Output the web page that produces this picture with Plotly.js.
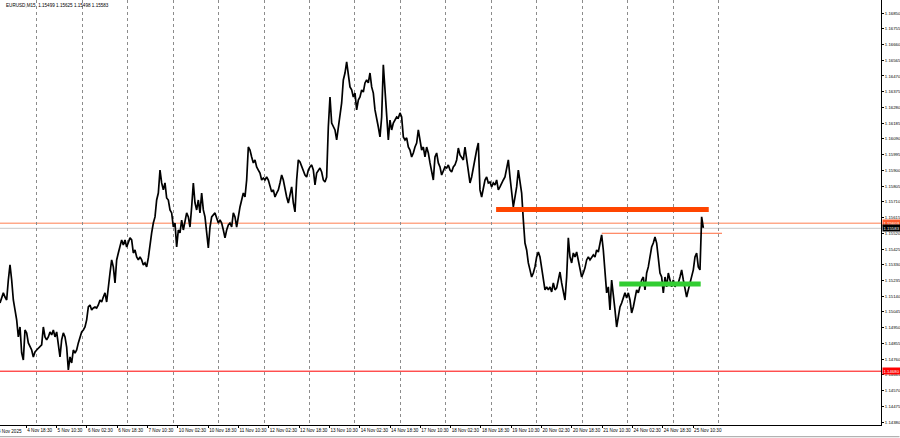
<!DOCTYPE html>
<html>
<head>
<meta charset="utf-8">
<script src="https://cdn.plot.ly/plotly-3.0.1.min.js"></script>
<style>
html,body{margin:0;padding:0;background:#fff;}
#chart{width:900px;height:438px;}
</style>
</head>
<body>
<div id="chart"></div>
<script>
// ---- data (EURUSD M15 closes, sampled about every 3.5 bars) ----
// x axis unit: M15 bar index counted over trading days from 4 Nov 00:00 (96 bars per day)
const firstSampleBar = 18.5;
const barsPerSample = 3.519;

const pricesWeek1 = [1.15099,1.15129,1.15160,1.15135,1.15117,1.15238,1.15329,1.15238,1.15117,1.15057,
1.14997,1.14894,1.14954,1.14797,1.14755,1.14936,1.14918,1.14858,1.14833,1.14815,
1.14773,1.14803,1.14815,1.14827,1.14833,1.14846,1.14954,1.14894,1.14876,1.14894,
1.14924,1.14906,1.14936,1.14894,1.14924,1.14858,1.14773,1.14876,1.14918,1.14894,
1.14833,1.14695,1.14773,1.14737,1.14815,1.14797,1.14815,1.14858,1.14894,1.14924,
1.14936,1.14954,1.14997,1.15075,1.15087,1.15057,1.15069,1.15075,1.15069,1.15087,
1.15117,1.15105,1.15135,1.15160,1.15105,1.15178,1.15280,1.15359,1.15317,1.15220,
1.15359,1.15401,1.15437,1.15480,1.15449,1.15480,1.15437,1.15461,1.15492,1.15480,
1.15401,1.15419,1.15377,1.15359,1.15377,1.15359,1.15329,1.15341,1.15317,1.15371,
1.15461,1.15522,1.15582,1.15619,1.15721,1.15763,1.15902,1.15824,1.15782,1.15824,
1.15733,1.15721,1.15661,1.15643,1.15558,1.15582,1.15437,1.15540,1.15522];

const pricesWeek2 = [1.15600,1.15540,1.15600,1.15643,1.15619,1.15558,1.15679,1.15824,1.15703,1.15661,
1.15721,1.15643,1.15763,1.15661,1.15619,1.15540,1.15431,1.15558,1.15619,1.15631,
1.15643,1.15612,1.15582,1.15600,1.15582,1.15540,1.15492,1.15540,1.15570,1.15582,
1.15558,1.15643,1.15619,1.15558,1.15631,1.15679,1.15721,1.15763,1.15739,1.15842,
1.16041,1.16023,1.15981,1.15945,1.15963,1.15921,1.15902,1.15884,1.15842,1.15854,
1.15842,1.15860,1.15842,1.15800,1.15770,1.15782,1.15739,1.15763,1.15782,1.15824,
1.15872,1.15842,1.15782,1.15739,1.15703,1.15763,1.15800,1.15703,1.15649,1.15842,
1.15963,1.15951,1.15921,1.15902,1.15872,1.15860,1.15902,1.15921,1.15933,1.15902,
1.15812,1.15884,1.15902,1.15914,1.15890,1.15842,1.15830,1.15860,1.16162,1.16343,
1.16186,1.16162,1.16144,1.16084,1.16162,1.16222,1.16307,1.16446,1.16488,1.16555,
1.16488,1.16404,1.16386,1.16343,1.16367];

const pricesWeek3 = [1.16265,1.16325,1.16343,1.16386,1.16373,1.16428,1.16446,1.16428,1.16488,1.16404,
1.16367,1.16265,1.16222,1.16162,1.16102,1.16222,1.16537,1.16386,1.16247,1.16084,
1.16204,1.16144,1.16186,1.16204,1.16222,1.16216,1.16247,1.16222,1.16102,1.16084,
1.16096,1.16041,1.16023,1.15981,1.16005,1.16041,1.16065,1.16144,1.16084,1.16023,
1.16041,1.15981,1.16041,1.16005,1.15945,1.15902,1.15842,1.15981,1.16005,1.15945,
1.15921,1.15872,1.15902,1.15921,1.15914,1.15933,1.15902,1.15890,1.15921,1.15933,
1.15963,1.16035,1.15993,1.15981,1.15963,1.16041,1.15963,1.15902,1.15824,1.15860,
1.15921,1.15981,1.16023,1.16065,1.15782,1.15739,1.15800,1.15842,1.15860,1.15824,
1.15830,1.15800,1.15824,1.15812,1.15842,1.15782,1.15800,1.15824,1.15842,1.15860,
1.15902,1.15963,1.15860,1.15763,1.15679,1.15739,1.15800,1.15902,1.15842,1.15763,
1.15600,1.15461,1.15419,1.15341,1.15299];

const pricesWeek4 = [1.15256,1.15280,1.15317,1.15377,1.15407,1.15377,1.15299,1.15256,1.15178,1.15196,
1.15178,1.15196,1.15166,1.15220,1.15178,1.15190,1.15238,1.15286,1.15220,1.15160,
1.15117,1.15256,1.15492,1.15377,1.15341,1.15401,1.15377,1.15407,1.15359,1.15317,
1.15256,1.15280,1.15311,1.15359,1.15377,1.15359,1.15371,1.15389,1.15377,1.15419,
1.15407,1.15449,1.15510,1.15419,1.15280,1.15160,1.15196,1.15057,1.15238,1.15160,
1.15057,1.14954,1.15015,1.15075,1.15099,1.15135,1.15160,1.15129,1.15160,1.15117,
1.15039,1.15075,1.15135,1.15178,1.15160,1.15196,1.15238,1.15256,1.15178,1.15280,
1.15317,1.15377,1.15437,1.15461,1.15498,1.15461,1.15377,1.15280,1.15256,1.15160,
1.15256,1.15196,1.15280,1.15238,1.15196,1.15238,1.15196,1.15220,1.15220,1.15256,
1.15299,1.15238,1.15178,1.15135,1.15178,1.15220,1.15256,1.15299,1.15377,1.15401,
1.15317,1.15299,1.15619,1.15552];

// time axis labels
const timeTickBars = [74,138,202,266,330,394,458,522,586,650,714,778,842,906,970,1034,1098,1162,1226,1290,1354,1418,1482];
const timeTickText = ["4 Nov 18:30","5 Nov 10:30","6 Nov 02:30","6 Nov 18:30","7 Nov 10:30","10 Nov 02:30","10 Nov 18:30",
"11 Nov 10:30","12 Nov 02:30","12 Nov 18:30","13 Nov 10:30","14 Nov 02:30","14 Nov 18:30","17 Nov 10:30","18 Nov 02:30",
"18 Nov 18:30","19 Nov 10:30","20 Nov 02:30","20 Nov 18:30","21 Nov 10:30","24 Nov 02:30","24 Nov 18:30","25 Nov 10:30"];
const dayStartBars = [96,192,288,384,480,576,672,768,864,960,1056,1152,1248,1344,1440,1536];

// price axis labels
const priceTicks = [1.14380,1.14475,1.14570,1.14665,1.14760,1.14855,1.14950,1.15045,1.15140,1.15235,1.15330,1.15425,
1.15520,1.15615,1.15710,1.15805,1.15900,1.15995,1.16090,1.16185,1.16280,1.16375,1.16470,1.16565,1.16660,1.16755,1.16850];

// drawn levels
const resistanceLevel = {price:1.15663, fromBar:1066, toBar:1515};
const supportLevel = {price:1.15214, fromBar:1326, toBar:1498};
const highLevel = {price:1.15520, fromBar:1289, toBar:1543};
const orangeLevel = {price:1.15581, label:"1.15603"};
const bidLevel = {price:1.15550, label:"1.15583"};
const redLevel = {price:1.14687, label:"1.14680"};

const headerText = "EURUSD,M15  1.15499 1.15625 1.15498 1.15583";
const firstDateLabel = "4 Nov 2025";

// ---- build ----
const allPrices = pricesWeek1.concat(pricesWeek2, pricesWeek3, pricesWeek4);
const sampleBars = allPrices.map((_, i) => firstSampleBar + i * barsPerSample);

const FONT = "Liberation Sans, Arial, sans-serif";
const X_RANGE = [18.5, 1878.7];
const Y_RANGE = [1.14362, 1.16929];

const traces = [
  {x: sampleBars, y: allPrices, type: "scatter", mode: "lines",
   line: {color: "#000000", width: 1.7}, hoverinfo: "skip"}
];

function hline(price, color, width, x0, x1, xref) {
  return {type: "line", xref: xref || "x", yref: "y", x0: x0, x1: x1, y0: price, y1: price,
          line: {color: color, width: width}, layer: "below"};
}
const shapes = [
  hline(orangeLevel.price, "#FF7F50", 1, 0, 1, "paper"),
  hline(bidLevel.price, "#C8C8C8", 1, 0, 1, "paper"),
  hline(redLevel.price, "#FF0000", 1, 0, 1, "paper"),
  hline(highLevel.price, "#FF6A3D", 1, highLevel.fromBar, highLevel.toBar),
  Object.assign(hline(resistanceLevel.price, "#FF4500", 5, resistanceLevel.fromBar, resistanceLevel.toBar), {layer: "above"}),
  Object.assign(hline(supportLevel.price, "#32CD32", 5, supportLevel.fromBar, supportLevel.toBar), {layer: "above"}),
  // chart tab strip at the very bottom
  {type: "line", xref: "paper", yref: "paper", x0: 0, x1: 1.021, y0: -0.0275, y1: -0.0275,
   line: {color: "#a0a0a0", width: 1}}
];

function priceTag(level, bg, fg) {
  return {xref: "paper", yref: "y", x: 1, y: level.price, xanchor: "left", yanchor: "middle",
          text: level.label, showarrow: false, bgcolor: bg, borderpad: 0.5, xshift: 0.5,
          font: {family: FONT, size: 4.3, color: fg}};
}
const annotations = [
  priceTag(orangeLevel, "#FF5A2A", "#ffffff"),
  priceTag(bidLevel, "#000000", "#ffffff"),
  priceTag(redLevel, "#FF0000", "#ffffff"),
  {xref: "paper", yref: "paper", x: 0.004, y: 1, xanchor: "left", yanchor: "top", yshift: -1,
   text: headerText, showarrow: false, font: {family: FONT, size: 4.6, color: "#000"}},
  {xref: "paper", yref: "paper", x: -0.0045, y: 0, xanchor: "left", yanchor: "top", yshift: -2,
   text: firstDateLabel, showarrow: false, font: {family: FONT, size: 4.6, color: "#000"}}
];

const layout = {
  width: 900, height: 438,
  margin: {l: 0, r: 19, t: 0, b: 13, pad: 0},
  paper_bgcolor: "#ffffff", plot_bgcolor: "#ffffff",
  showlegend: false, hovermode: false,
  xaxis: {
    range: X_RANGE, showgrid: false, zeroline: false,
    showline: true, linecolor: "#000", linewidth: 1,
    tickmode: "array", tickvals: timeTickBars, ticktext: timeTickText,
    ticks: "outside", ticklen: 2, tickcolor: "#000", tickangle: 0,
    ticklabelposition: "outside right",
    tickfont: {family: FONT, size: 4.6, color: "#000"},
    minor: {tickmode: "array", tickvals: dayStartBars, showgrid: true, griddash: "dot",
            gridcolor: "#8c8c8c", gridwidth: 1, ticks: ""}
  },
  yaxis: {
    range: Y_RANGE, side: "right", showgrid: false, zeroline: false,
    showline: true, linecolor: "#000", linewidth: 1,
    tickmode: "array", tickvals: priceTicks, ticktext: priceTicks.map(v => v.toFixed(5)),
    ticks: "outside", ticklen: 2, tickcolor: "#000",
    tickfont: {family: FONT, size: 4.3, color: "#000"}
  },
  shapes: shapes,
  annotations: annotations
};

Plotly.newPlot("chart", traces, layout, {staticPlot: true, displayModeBar: false});
</script>
</body>
</html>
